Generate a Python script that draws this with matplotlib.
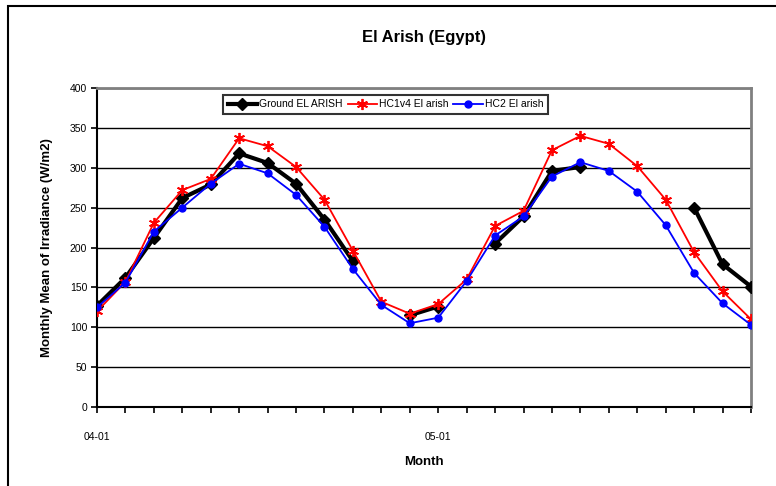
import numpy as np
import matplotlib
matplotlib.use('Agg')
import matplotlib.pyplot as plt
from matplotlib.patches import Rectangle

# monthly values, Jan 2004 .. Dec 2005
months = list(range(24))
tick_labels = ['04-01'] + [''] * 11 + ['05-01'] + [''] * 11

ground = [127, 162, 212, 262, 279, 318, 306, 280, 235, 183, None, 115,
          126, None, 205, 239, 296, 301, None, None, None, 250, 179, 151]
hc1v4 = [120, 157, 231, 272, 286, 337, 327, 301, 260, 196, 132, 117,
         129, 160, 227, 246, 322, 340, 330, 302, 260, 194, 145, 110]
hc2 = [125, 156, 220, 250, 280, 305, 293, 266, 226, 173, 128, 105,
       112, 158, 215, 239, 289, 307, 296, 270, 228, 168, 130, 103]

plt.rcParams['font.family'] = ['Liberation Sans', 'DejaVu Sans']

fig = plt.figure(figsize=(7.76, 4.86), dpi=100)
ax = fig.add_axes([97 / 776, 1 - 407 / 486, (751 - 97) / 776, (407 - 88) / 486])

# outer chart border (clipped on right/bottom like the original)
fig.patches.append(Rectangle((8 / 776, -0.1), 1.2, 1 - 6 / 486 + 0.1,
                             transform=fig.transFigure, fill=False,
                             edgecolor='black', linewidth=1.5))

g = np.array([np.nan if v is None else v for v in ground], dtype=float)

ax.plot(months, g, color='black', lw=3, marker='D', ms=6.5,
        label='Ground EL ARISH', zorder=3)
ax.plot(months, hc1v4, color='#ff0000', lw=1.3, marker=(6, 2, 0), ms=8,
        mew=1.3, label='HC1v4 El arish', zorder=4)
ax.plot(months, hc2, color='#0000ff', lw=1.3, marker='o', ms=5,
        label='HC2 El arish', zorder=5)

ax.set_xlim(0, 23)
ax.set_ylim(0, 400)
ax.set_yticks(range(0, 401, 50))
ax.set_xticks(months)
ax.set_xticklabels(tick_labels)
ax.yaxis.grid(True, color='black', lw=1)
ax.set_axisbelow(True)

for side in ['top', 'right']:
    ax.spines[side].set_color('#808080')
    ax.spines[side].set_linewidth(2)
for side in ['left', 'bottom']:
    ax.spines[side].set_color('black')
    ax.spines[side].set_linewidth(1.5)

ax.tick_params(axis='y', direction='out', length=4, width=1.2, labelsize=7.5, pad=3)
ax.tick_params(axis='x', direction='out', length=4, width=1.2, labelsize=7.5, pad=14)

ax.set_xlabel('Month', fontsize=9.5, fontweight='bold', labelpad=10)
ax.set_ylabel('Monthly Mean of Irradiance (W/m2)', fontsize=9.5, fontweight='bold', labelpad=12)
fig.suptitle('El Arish (Egypt)', x=(97 + 751) / 2 / 776, y=1 - 30 / 486,
             fontsize=12, fontweight='bold')

leg = ax.legend(loc='upper center', bbox_to_anchor=(0.441, 0.995), ncol=3,
                fontsize=7.5, frameon=True, fancybox=False, borderpad=0.45,
                handlelength=2.8, columnspacing=0.5, handletextpad=0.2)
leg.get_frame().set_edgecolor('black')
leg.get_frame().set_linewidth(1.5)

fig.savefig('out.png', dpi=100)
